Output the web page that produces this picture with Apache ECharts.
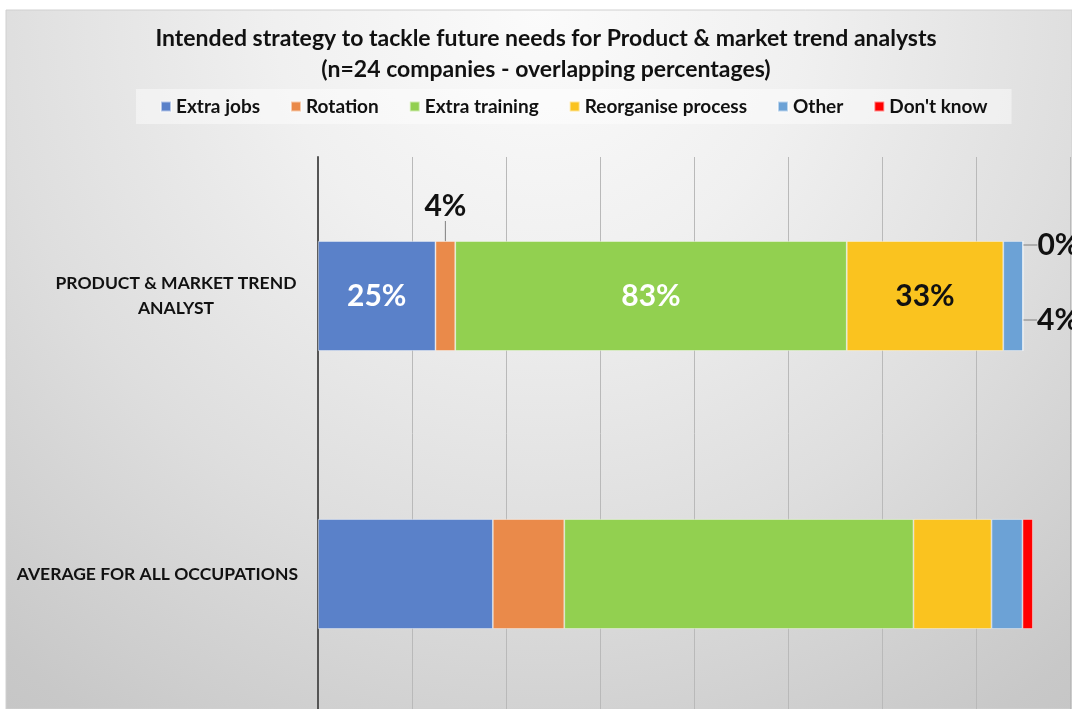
<!DOCTYPE html>
<html><head><meta charset="utf-8">
<script src="https://cdn.jsdelivr.net/npm/echarts@6/dist/echarts.min.js"></script>
<style>html,body{margin:0;padding:0;background:#fff}#c{width:1072px;height:709px}</style>
</head><body><div id="c"></div>
<script>
const categories = ['PRODUCT & MARKET TREND ANALYST', 'AVERAGE FOR ALL OCCUPATIONS'];
const seriesNames = ['Extra jobs', 'Rotation', 'Extra training', 'Reorganise process', 'Other', "Don't know"];
const extraJobs = [25, 37.2];
const rotation = [4.2, 15.2];
const extraTraining = [83.3, 74.3];
const reorganise = [33.3, 16.6];
const other = [4.2, 6.6];
const dontKnow = [0, 2.2];
const productLabels = ['25%', '4%', '83%', '33%', '4%', '0%'];
const xMin = 0, xMax = 160, xInterval = 20;

const FONT = 'Lato';
const colors = ['#5a81c9', '#ea8a4a', '#92d050', '#fac31f', '#6ca2d6', '#ff0000'];
const values = [extraJobs, rotation, extraTraining, reorganise, other, dontKnow];
const LBL = 30;

const labelCfg = [
  { label: { show: true, position: 'inside', color: '#fff', fontSize: LBL } },
  { label: { show: true, position: 'top', distance: 5, color: '#111', fontSize: LBL },
    labelLayout: { dy: -15 }, labelLine: { show: true, lineStyle: { color: '#7f7f7f', width: 1 } } },
  { label: { show: true, position: 'inside', color: '#fff', fontSize: LBL } },
  { label: { show: true, position: 'inside', color: '#111', fontSize: LBL } },
  { label: { show: true, position: 'right', distance: 14, color: '#111', fontSize: LBL },
    labelLayout: { dy: 24 }, labelLine: { show: true, lineStyle: { color: '#7f7f7f', width: 1 } } },
  { label: { show: true, position: 'right', distance: 14, color: '#111', fontSize: LBL },
    labelLayout: { dy: -51 }, labelLine: { show: true, lineStyle: { color: '#7f7f7f', width: 1 } } }
];

const series = seriesNames.map((name, i) => {
  const cfg = labelCfg[i];
  return {
    name: name,
    type: 'bar',
    stack: 'total',
    barWidth: 110,
    itemStyle: { color: colors[i], borderColor: 'rgba(255,255,255,0.55)', borderWidth: 0.8 },
    emphasis: { disabled: true },
    labelLayout: cfg.labelLayout ? function (p) { return p.dataIndex === 0 ? cfg.labelLayout : {}; } : undefined,
    labelLine: cfg.labelLine,
    data: values[i].map((v, j) => {
      if (j === 0) {
        return {
          value: v,
          label: Object.assign({ fontFamily: FONT, fontWeight: 'bold', formatter: productLabels[i] }, cfg.label)
        };
      }
      return { value: v, label: { show: false } };
    })
  };
});

const chart = echarts.init(document.getElementById('c'), null, { renderer: 'canvas' });
chart.setOption({
  backgroundColor: '#ffffff',
  animation: false,
  graphic: [{
    type: 'rect', z: -100, silent: true,
    shape: { x: 6, y: 10, width: 1066, height: 699 },
    style: {
      fill: new echarts.graphic.RadialGradient(540, 10, 880, [
        { offset: 0, color: '#fbfbfb' },
        { offset: 0.3, color: '#f0f0f0' },
        { offset: 0.62, color: '#dedede' },
        { offset: 0.95, color: '#c8c8c8' },
        { offset: 1, color: '#c6c6c6' }
      ], true),
      stroke: '#d0d0d0', lineWidth: 1
    }
  }],
  title: {
    text: 'Intended strategy to tackle future needs for Product & market trend analysts\n(n=24 companies - overlapping percentages)',
    left: 546, top: 23, textAlign: 'center', padding: 0,
    textStyle: { fontFamily: FONT, fontWeight: 'bold', fontSize: 23, lineHeight: 31, color: '#111' }
  },
  legend: {
    data: seriesNames,
    left: 136, top: 89,
    padding: [8, 24],
    backgroundColor: 'rgba(255,255,255,0.45)',
    itemWidth: 10, itemHeight: 10, itemGap: 30,
    icon: 'rect',
    selectedMode: false,
    textStyle: { fontFamily: FONT, fontWeight: 'bold', fontSize: 19, lineHeight: 18, color: '#111' }
  },
  grid: { left: 318, top: 157, width: 752, height: 556, containLabel: false, outerBoundsMode: 'none' },
  xAxis: {
    type: 'value', min: xMin, max: xMax, interval: xInterval,
    axisLine: { show: false }, axisTick: { show: false }, axisLabel: { show: false },
    splitLine: { show: true, lineStyle: { color: '#b9b9b9', width: 1 } }
  },
  yAxis: {
    type: 'category', inverse: true, data: categories,
    axisLine: { show: true, lineStyle: { color: '#555', width: 2 } },
    axisTick: { show: false },
    axisLabel: {
      margin: 20, fontFamily: FONT, fontWeight: 'bold', fontSize: 17.5, color: '#111', lineHeight: 25,
      formatter: function (v, idx) {
        if (idx === 0) return '{c|PRODUCT & MARKET TREND}\n{c|ANALYST}';
        return v;
      },
      rich: { c: { width: 244, align: 'center', fontFamily: FONT, fontWeight: 'bold', fontSize: 17.5, color: '#111', lineHeight: 25 } }
    }
  },
  series: series
});
</script></body></html>
